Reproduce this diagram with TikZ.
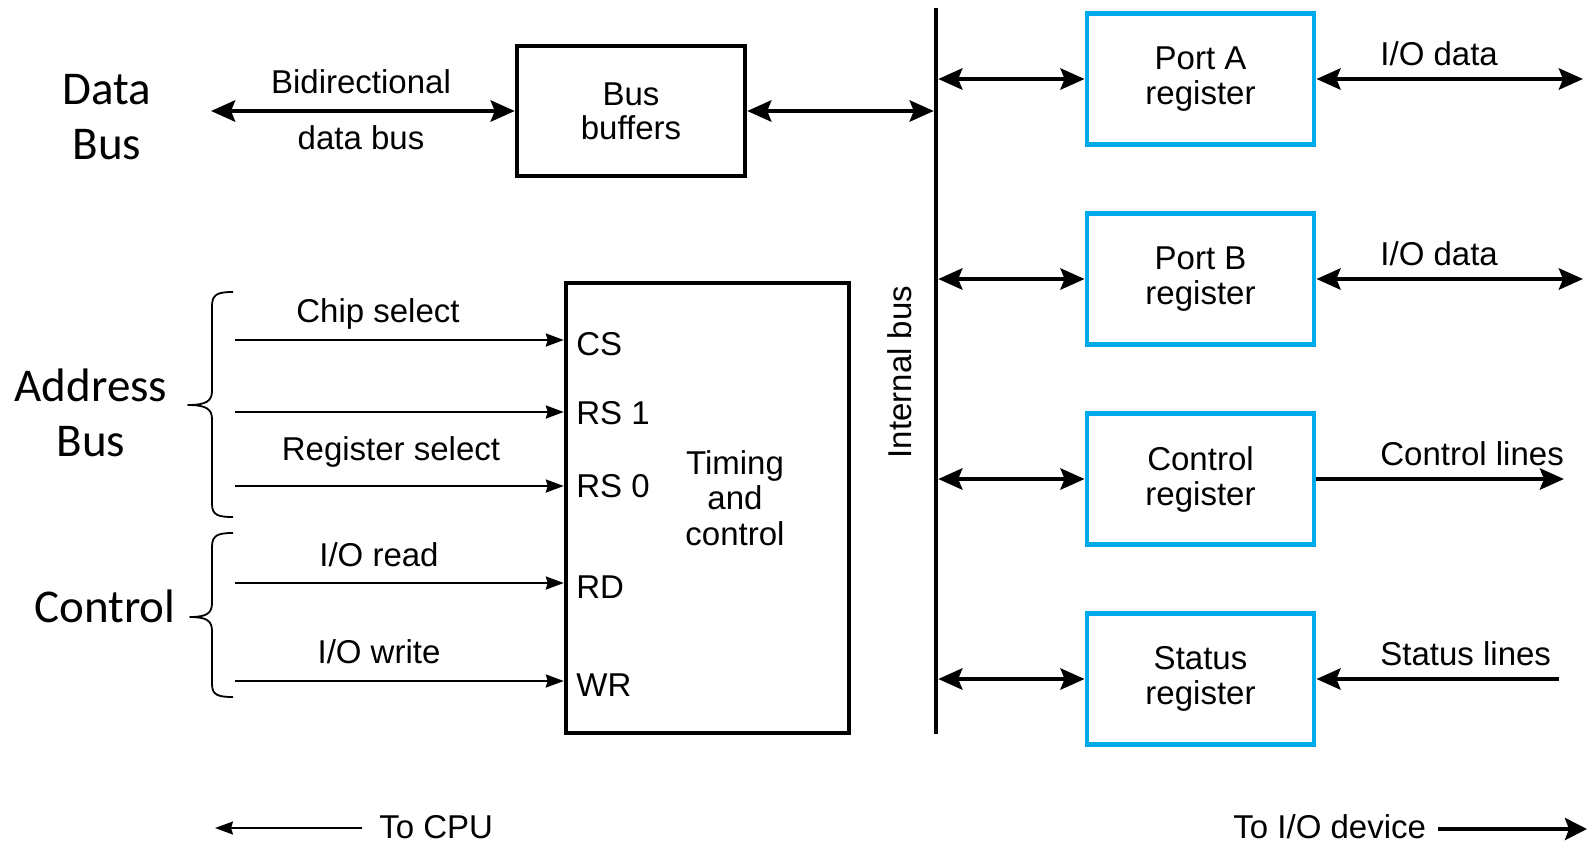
\documentclass[tikz,border=0pt]{standalone}
\usepackage{fontspec}
\setmainfont{Liberation Sans}
\newfontfamily\sidefont{Carlito}
\usetikzlibrary{arrows.meta}
\definecolor{regblue}{RGB}{0,170,235}

\tikzset{
  lbl/.style={font=\fontsize{16.5}{17}\selectfont, inner sep=0pt},
  sidelbl/.style={font=\sidefont\fontsize{23.5}{27.5}\selectfont, align=center, inner sep=0pt},
  blockbox/.style={draw=black, line width=2.2pt, inner sep=0pt, align=center,
    font=\fontsize{16.5}{17}\selectfont},
  regbox/.style={draw=regblue, line width=2.4pt, minimum width=113.5pt, minimum height=65.5pt,
    inner sep=0pt, align=center, font=\fontsize{16.5}{17.5}\selectfont},
  bracepath/.style={line width=0.9pt, line join=round},
  sigarrow/.style={line width=1.2pt, -{Stealth[length=9pt, width=6.5pt, inset=1pt]}},
  busarrow/.style={line width=2.3pt,
    {Stealth[length=12pt, width=10.5pt, inset=2pt]}-{Stealth[length=12pt, width=10.5pt, inset=2pt]}},
  outarrow/.style={line width=2.3pt, -{Stealth[length=12pt, width=10.5pt, inset=2pt]}},
  cpuarrow/.style={line width=1pt, -{Stealth[length=9pt, width=6.5pt, inset=1pt]}},
  devarrow/.style={line width=2.1pt, -{Stealth[length=11pt, width=11pt, inset=2pt]}},
}

\begin{document}
\begin{tikzpicture}[x=0.5pt, y=-0.5pt]
\useasboundingbox (0,0) rectangle (1595,848);

% ---- side captions and braces ----
\node[sidelbl] (lbldata) at (107,117) {Data\\Bus};
\node[sidelbl] (lbladdr) at (91,413) {Address\\Bus};
\node[sidelbl, anchor=base] (lblctrl) at (105,622) {Control};

\draw[bracepath] (233,292) .. controls (218,292) and (212,294) .. (212,306)
  -- (212,391) .. controls (212,401) and (206,405) .. (188,405)
  .. controls (206,405) and (212,409) .. (212,419)
  -- (212,504) .. controls (212,515) and (218,517) .. (233,517);
\draw[bracepath] (233,533) .. controls (218,533) and (212,535) .. (212,547)
  -- (212,603) .. controls (212,613) and (207,617) .. (190,617)
  .. controls (207,617) and (212,621) .. (212,631)
  -- (212,684) .. controls (212,695) and (218,697) .. (233,697);

% ---- main blocks ----
\node[blockbox, minimum width=114pt, minimum height=65pt] (bb) at (631,111) {Bus\\buffers};
\node[blockbox, minimum width=141.5pt, minimum height=225pt] (tc) at (707.5,508) {};
\node[lbl, align=center, font=\fontsize{16.5}{17.75}\selectfont] (tctext) at (735,498) {Timing\\and\\control};

% ---- internal bus ----
\coordinate (ibtop) at (936,8);
\coordinate (ibbot) at (936,734);
\draw[line width=2.2pt] (ibtop) -- (ibbot);
\node[lbl, rotate=90] (iblbl) at (900,372) {Internal bus};

% ---- data bus path ----
\coordinate (dbfree) at (211,111);
\draw[busarrow] (dbfree) -- (bb.west);
\node[lbl, anchor=base] (lblbidir) at (361,93) {Bidirectional};
\node[lbl, anchor=base] (lbldbus) at (361,149) {data bus};
\draw[busarrow] (bb.east) -- ([xshift=-1.1pt]ibtop |- bb.east);

% ---- address and control inputs ----
\coordinate (incs) at (235,340);
\coordinate (inrsa) at (235,412);
\coordinate (inrsb) at (235,486);
\coordinate (inrd) at (235,583);
\coordinate (inwr) at (235,681);
\draw[sigarrow] (incs) -- (incs -| tc.west);
\draw[sigarrow] (inrsa) -- (inrsa -| tc.west);
\draw[sigarrow] (inrsb) -- (inrsb -| tc.west);
\draw[sigarrow] (inrd) -- (inrd -| tc.west);
\draw[sigarrow] (inwr) -- (inwr -| tc.west);

\node[lbl, anchor=base] (lblcs) at (378,322) {Chip select};
\node[lbl, anchor=base] (lblrs) at (391,460) {Register select};
\node[lbl, anchor=base] (lblrd) at (379,566) {I/O read};
\node[lbl, anchor=base] (lblwr) at (379,663) {I/O write};

\node[lbl, anchor=base west] (pincs) at (576,355) {CS};
\node[lbl, anchor=base west] (pinrsa) at (576,424) {RS 1};
\node[lbl, anchor=base west] (pinrsb) at (576,497) {RS 0};
\node[lbl, anchor=base west] (pinrd) at (576,598) {RD};
\node[lbl, anchor=base west] (pinwr) at (576,696) {WR};

% ---- port and status registers ----
\node[regbox] (pa) at (1200.5,79) {Port A\\register};
\node[regbox] (pb) at (1200.5,279) {Port B\\register};
\node[regbox] (cr) at (1200.5,479) {Control\\register};
\node[regbox] (sr) at (1200.5,679) {Status\\register};

\draw[busarrow] ([xshift=1.1pt]ibtop |- pa.west) -- (pa.west);
\draw[busarrow] ([xshift=1.1pt]ibtop |- pb.west) -- (pb.west);
\draw[busarrow] ([xshift=1.1pt]ibtop |- cr.west) -- (cr.west);
\draw[busarrow] ([xshift=1.1pt]ibtop |- sr.west) -- (sr.west);

\coordinate (paout) at (1583,79);
\coordinate (pbout) at (1583,279);
\coordinate (crout) at (1564,479);
\coordinate (srin) at (1559,679);
\draw[busarrow] (pa.east) -- (paout);
\draw[busarrow] (pb.east) -- (pbout);
\draw[outarrow] (cr.east) -- (crout);
\draw[outarrow] (srin) -- (sr.east);

\node[lbl, anchor=base west] (lblpa) at (1380,65) {I/O data};
\node[lbl, anchor=base west] (lblpb) at (1380,265) {I/O data};
\node[lbl, anchor=base west] (lblcr) at (1380,465) {Control lines};
\node[lbl, anchor=base west] (lblsr) at (1380,665) {Status lines};

% ---- direction legend ----
\node[lbl, anchor=base west] (tocpu) at (379,838) {To CPU};
\coordinate (cpuend) at (215,828);
\draw[cpuarrow, shorten <=8.5pt] (tocpu.west |- cpuend) -- (cpuend);

\node[lbl, anchor=base west] (todev) at (1233,838) {To I/O device};
\coordinate (devend) at (1587,829);
\draw[devarrow, shorten <=6pt] (todev.east |- devend) -- (devend);
\end{tikzpicture}
\end{document}
